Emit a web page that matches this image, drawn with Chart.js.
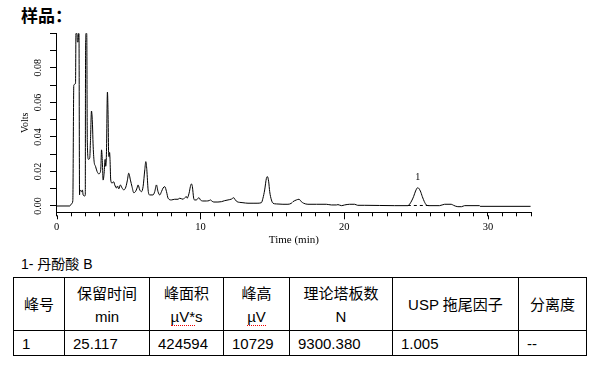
<!DOCTYPE html>
<html>
<head>
<meta charset="utf-8">
<script src="https://cdn.jsdelivr.net/npm/chart.js@4.4.0/dist/chart.umd.min.js"></script>
<style>
  html, body { margin: 0; padding: 0; background: #fff; width: 599px; height: 369px; overflow: hidden;
               -webkit-font-smoothing: antialiased; }
  #title { position: absolute; left: 21px; top: 5px; font: bold 17px "Noto Sans CJK SC", sans-serif; line-height: 20px; }
  #wrap { position: absolute; left: 0; top: 0; width: 599px; height: 255px; }
  #cap { position: absolute; left: 21px; top: 255px; font: 14px "Liberation Sans", "Noto Sans CJK SC", sans-serif; line-height: 18px; }
  table { position: absolute; left: 13px; top: 277px; border-collapse: collapse; table-layout: fixed; width: 574px;
          font: 15px "Liberation Sans", "Noto Sans CJK SC", sans-serif; color: #000; }
  td { border: 1px solid #000; padding: 0; color: #000; }
  tr.head td { height: 52px; text-align: center; line-height: 23px; }
  tr.row td { height: 24px; padding-left: 8px; }
  .cjk { font-family: "Noto Sans CJK SC", sans-serif; color: #000; }
  .pk { font-family: "Noto Sans CJK JP", "Noto Sans CJK SC", sans-serif; color: #000; -webkit-text-fill-color: #000; }
  .sp { border-bottom: 1px dotted #e00; }
</style>
</head>
<body>
<div id="title">样品：</div>
<div id="wrap"><canvas id="chart"></canvas></div>
<div id="cap">1- 丹酚酸 B</div>
<table>
  <colgroup>
    <col style="width:51px"><col style="width:85px"><col style="width:74px"><col style="width:66px">
    <col style="width:103px"><col style="width:126px"><col style="width:68px">
  </colgroup>
  <tr class="head">
    <td><span class="pk">峰</span><span class="cjk">号</span></td>
    <td><span class="cjk">保留时间</span><br>min</td>
    <td><span class="pk">峰</span><span class="cjk">面积</span><br><span class="sp">µV*</span>s</td>
    <td><span class="pk">峰</span><span class="cjk">高</span><br><span class="sp">µV</span></td>
    <td><span class="cjk">理论塔板数</span><br>N</td>
    <td>USP <span class="cjk">拖尾因子</span></td>
    <td><span class="cjk">分离度</span></td>
  </tr>
  <tr class="row">
    <td>1</td><td>25.117</td><td>424594</td><td>10729</td><td>9300.380</td><td>1.005</td><td>--</td>
  </tr>
</table>
<script>
// chromatogram trace (min, volts)
const times = [
  0, 0.91, 1.02, 1.12, 1.19, 1.31, 1.34, 1.41, 1.44, 1.49, 1.52, 1.55, 1.59, 1.61, 1.72, 1.79, 1.84, 1.95, 1.99,
  2.00, 2.03, 2.09, 2.13, 2.21, 2.30, 2.35, 2.42, 2.49, 2.53, 2.60, 2.70, 2.81, 2.93, 3.00, 3.07, 3.12, 3.18,
  3.23, 3.30, 3.37, 3.41, 3.46, 3.53, 3.58, 3.61, 3.64, 3.68, 3.71, 3.76, 3.85, 3.97, 4.04, 4.16, 4.23, 4.32,
  4.43, 4.55, 4.67, 4.81, 4.92, 5.01, 5.13, 5.24, 5.36, 5.48, 5.59, 5.66, 5.78, 5.90, 6.01, 6.13, 6.20, 6.27,
  6.36, 6.47, 6.70, 6.82, 6.94, 7.05, 7.17, 7.29, 7.40, 7.52, 7.64, 7.75, 7.98, 8.21, 8.44, 8.56, 8.79, 8.91,
  9.03, 9.07, 9.21, 9.30, 9.37, 9.44, 9.53, 9.60, 9.72, 9.83, 9.90, 10.0, 10.18, 10.42, 10.60, 10.70, 10.79,
  10.93, 11.22, 11.46, 11.69, 11.92, 12.16, 12.32, 12.43, 12.55, 12.73, 12.96, 13.31, 13.66, 13.94, 14.24,
  14.35, 14.47, 14.59, 14.66, 14.75, 14.82, 14.94, 15.05, 15.28, 15.74, 16.09, 16.33, 16.44, 16.68, 16.86,
  17.02, 17.18, 17.48, 18.07, 18.76, 19.11, 19.46, 19.57, 19.81, 20.03, 20.38, 20.73, 20.94, 21.43, 22.47,
  23.51, 24.44, 24.55, 24.69, 24.83, 24.97, 25.12, 25.30, 25.44, 25.58, 25.72, 25.90, 26.64, 26.99, 27.45,
  27.61, 27.91, 28.17, 28.38, 29.42, 29.46, 32.97
];
const volts = [
  0, 0, 0.0012, 0.0029, 0.070, 0.071, 0.100, 0.100, 0.095, 0.095, 0.100, 0.100, 0.0064, 0.0093, 0.0083, 0.0093, 0.0064, 0.0058, 0.0064,
  0.065, 0.100, 0.100, 0.037, 0.027, 0.028, 0.038, 0.055, 0.047, 0.036, 0.026, 0.023, 0.020, 0.0186, 0.019, 0.022, 0.0325, 0.025,
  0.015, 0.019, 0.027, 0.023, 0.030, 0.066, 0.050, 0.031, 0.0286, 0.031, 0.027, 0.015, 0.0133, 0.014, 0.0122, 0.0104, 0.0116, 0.0099,
  0.0122, 0.0104, 0.0093, 0.011, 0.015, 0.019, 0.015, 0.0112, 0.0077, 0.0083, 0.0104, 0.0122, 0.0093, 0.0083, 0.0112, 0.021, 0.0257, 0.021,
  0.0093, 0.0064, 0.0064, 0.0083, 0.0122, 0.0083, 0.0064, 0.0083, 0.0104, 0.0112, 0.0083, 0.0045, 0.0035, 0.0039, 0.0039, 0.0045, 0.0039, 0.0048,
  0.0054, 0.0045, 0.0074, 0.0112, 0.0128, 0.0112, 0.0045, 0.0035, 0.0035, 0.0045, 0.0048, 0.0035, 0.0029, 0.0029, 0.0031, 0.0035, 0.0029,
  0.0023, 0.0023, 0.0025, 0.0031, 0.0035, 0.0040, 0.0048, 0.0035, 0.0025, 0.0021, 0.0019, 0.0016, 0.0016, 0.0016, 0.0019,
  0.0045, 0.0093, 0.016, 0.017, 0.014, 0.0083, 0.0035, 0.0016, 0.0012, 0.0010, 0.0010, 0.0016, 0.0025, 0.0035, 0.0039,
  0.0025, 0.0016, 0.0010, 0.0010, 0.0010, 0.0006, 0.0006, 0.0008, 0.0002, 0.0006, 0.0010, 0.0010, 0.0004, 0.0004, 0.0003,
  0.0002, 0.0002, 0.0010, 0.0029, 0.0054, 0.0087, 0.0106, 0.0087, 0.0054, 0.0025, 0.0006, 0.0002, 0.0002, 0.0010, 0.0010,
  0.0004, -0.0004, -0.0004, 0.0002, 0.0002, -0.0002, -0.0002
];

// integration baseline under peak 1 (dashed)
const baseTimes = [24.43, 25.9];
const baseVolts = [0.0003, 0.0003];

// peak labels
const peakNames = ["1"];
const peakTimes = [25.117];
const peakVolts = [0.0107];

const xMajor = [0, 10, 20, 30];
const yLabelled = [0, 0.02, 0.04, 0.06, 0.08];

const serif = "'Liberation Serif', 'Times New Roman', serif";

const peakLabelPlugin = {
  id: "peakLabels",
  afterDatasetsDraw(chart) {
    const { ctx, scales: { x, y } } = chart;
    ctx.save();
    ctx.fillStyle = "#000";
    ctx.font = "10px " + serif;
    ctx.textAlign = "center";
    ctx.textBaseline = "middle";
    peakNames.forEach((n, i) => {
      ctx.fillText(n, x.getPixelForValue(peakTimes[i]), y.getPixelForValue(peakVolts[i]) - 10);
    });
    ctx.restore();
  },
};

// longer tick marks at labelled x positions
const majorTickPlugin = {
  id: "majorTicks",
  afterDraw(chart) {
    const { ctx, scales: { x } } = chart;
    ctx.save();
    ctx.strokeStyle = "#000";
    ctx.lineWidth = 1;
    ctx.beginPath();
    for (const v of xMajor) {
      const px = Math.round(x.getPixelForValue(v)) + 0.5;
      ctx.moveTo(px, x.top + 3);
      ctx.lineTo(px, x.top + 7);
    }
    ctx.stroke();
    ctx.restore();
  },
};

new Chart(document.getElementById("chart"), {
  type: "line",
  data: {
    datasets: [
      {
        data: times.map((t, i) => ({ x: t, y: volts[i] })),
        borderColor: "#000",
        borderWidth: 1,
        pointRadius: 0,
        cubicInterpolationMode: "monotone",
      },
      {
        data: baseTimes.map((t, i) => ({ x: t, y: baseVolts[i] })),
        borderColor: "#000",
        borderWidth: 1,
        borderDash: [3, 3],
        pointRadius: 0,
      },
    ],
  },
  options: {
    responsive: true,
    maintainAspectRatio: false,
    animation: false,
    layout: { padding: { top: 33.3, right: 68, bottom: 0, left: 0 } },
    plugins: { legend: { display: false }, tooltip: { enabled: false } },
    scales: {
      x: {
        type: "linear",
        min: 0,
        max: 33,
        border: { display: true, color: "#000", width: 1 },
        grid: { drawOnChartArea: false, drawTicks: true, tickLength: 4, color: "#000" },
        ticks: {
          stepSize: 1,
          autoSkip: false,
          maxRotation: 0,
          padding: 5,
          color: "#000",
          font: { family: serif, size: 10.5 },
          callback: (v) => (xMajor.includes(v) ? String(v) : ""),
        },
        title: {
          display: true,
          text: "Time (min)",
          color: "#000",
          font: { family: serif, size: 11 },
          padding: { top: 0, bottom: 8 },
        },
        afterFit: (s) => { s.height = 42.7; },
      },
      y: {
        min: -0.00365,
        max: 0.1,
        border: { display: true, color: "#000", width: 1 },
        grid: { drawOnChartArea: false, drawTicks: true, tickLength: 6.7, color: "#000" },
        ticks: {
          stepSize: 0.01,
          includeBounds: false,
          autoSkip: false,
          minRotation: 90,
          maxRotation: 90,
          crossAlign: "center",
          padding: 3,
          color: "#000",
          font: { family: serif, size: 10 },
          callback: (v) => {
            const k = Math.round(v * 100) / 100;
            return yLabelled.includes(k) ? k.toFixed(2) : "";
          },
        },
        title: {
          display: true,
          text: "Volts",
          color: "#000",
          font: { family: serif, size: 10 },
          padding: { top: 19, bottom: 0 },
        },
        afterFit: (s) => { s.width = 56.7; },
      },
    },
  },
  plugins: [peakLabelPlugin, majorTickPlugin],
});
</script>
</body>
</html>
